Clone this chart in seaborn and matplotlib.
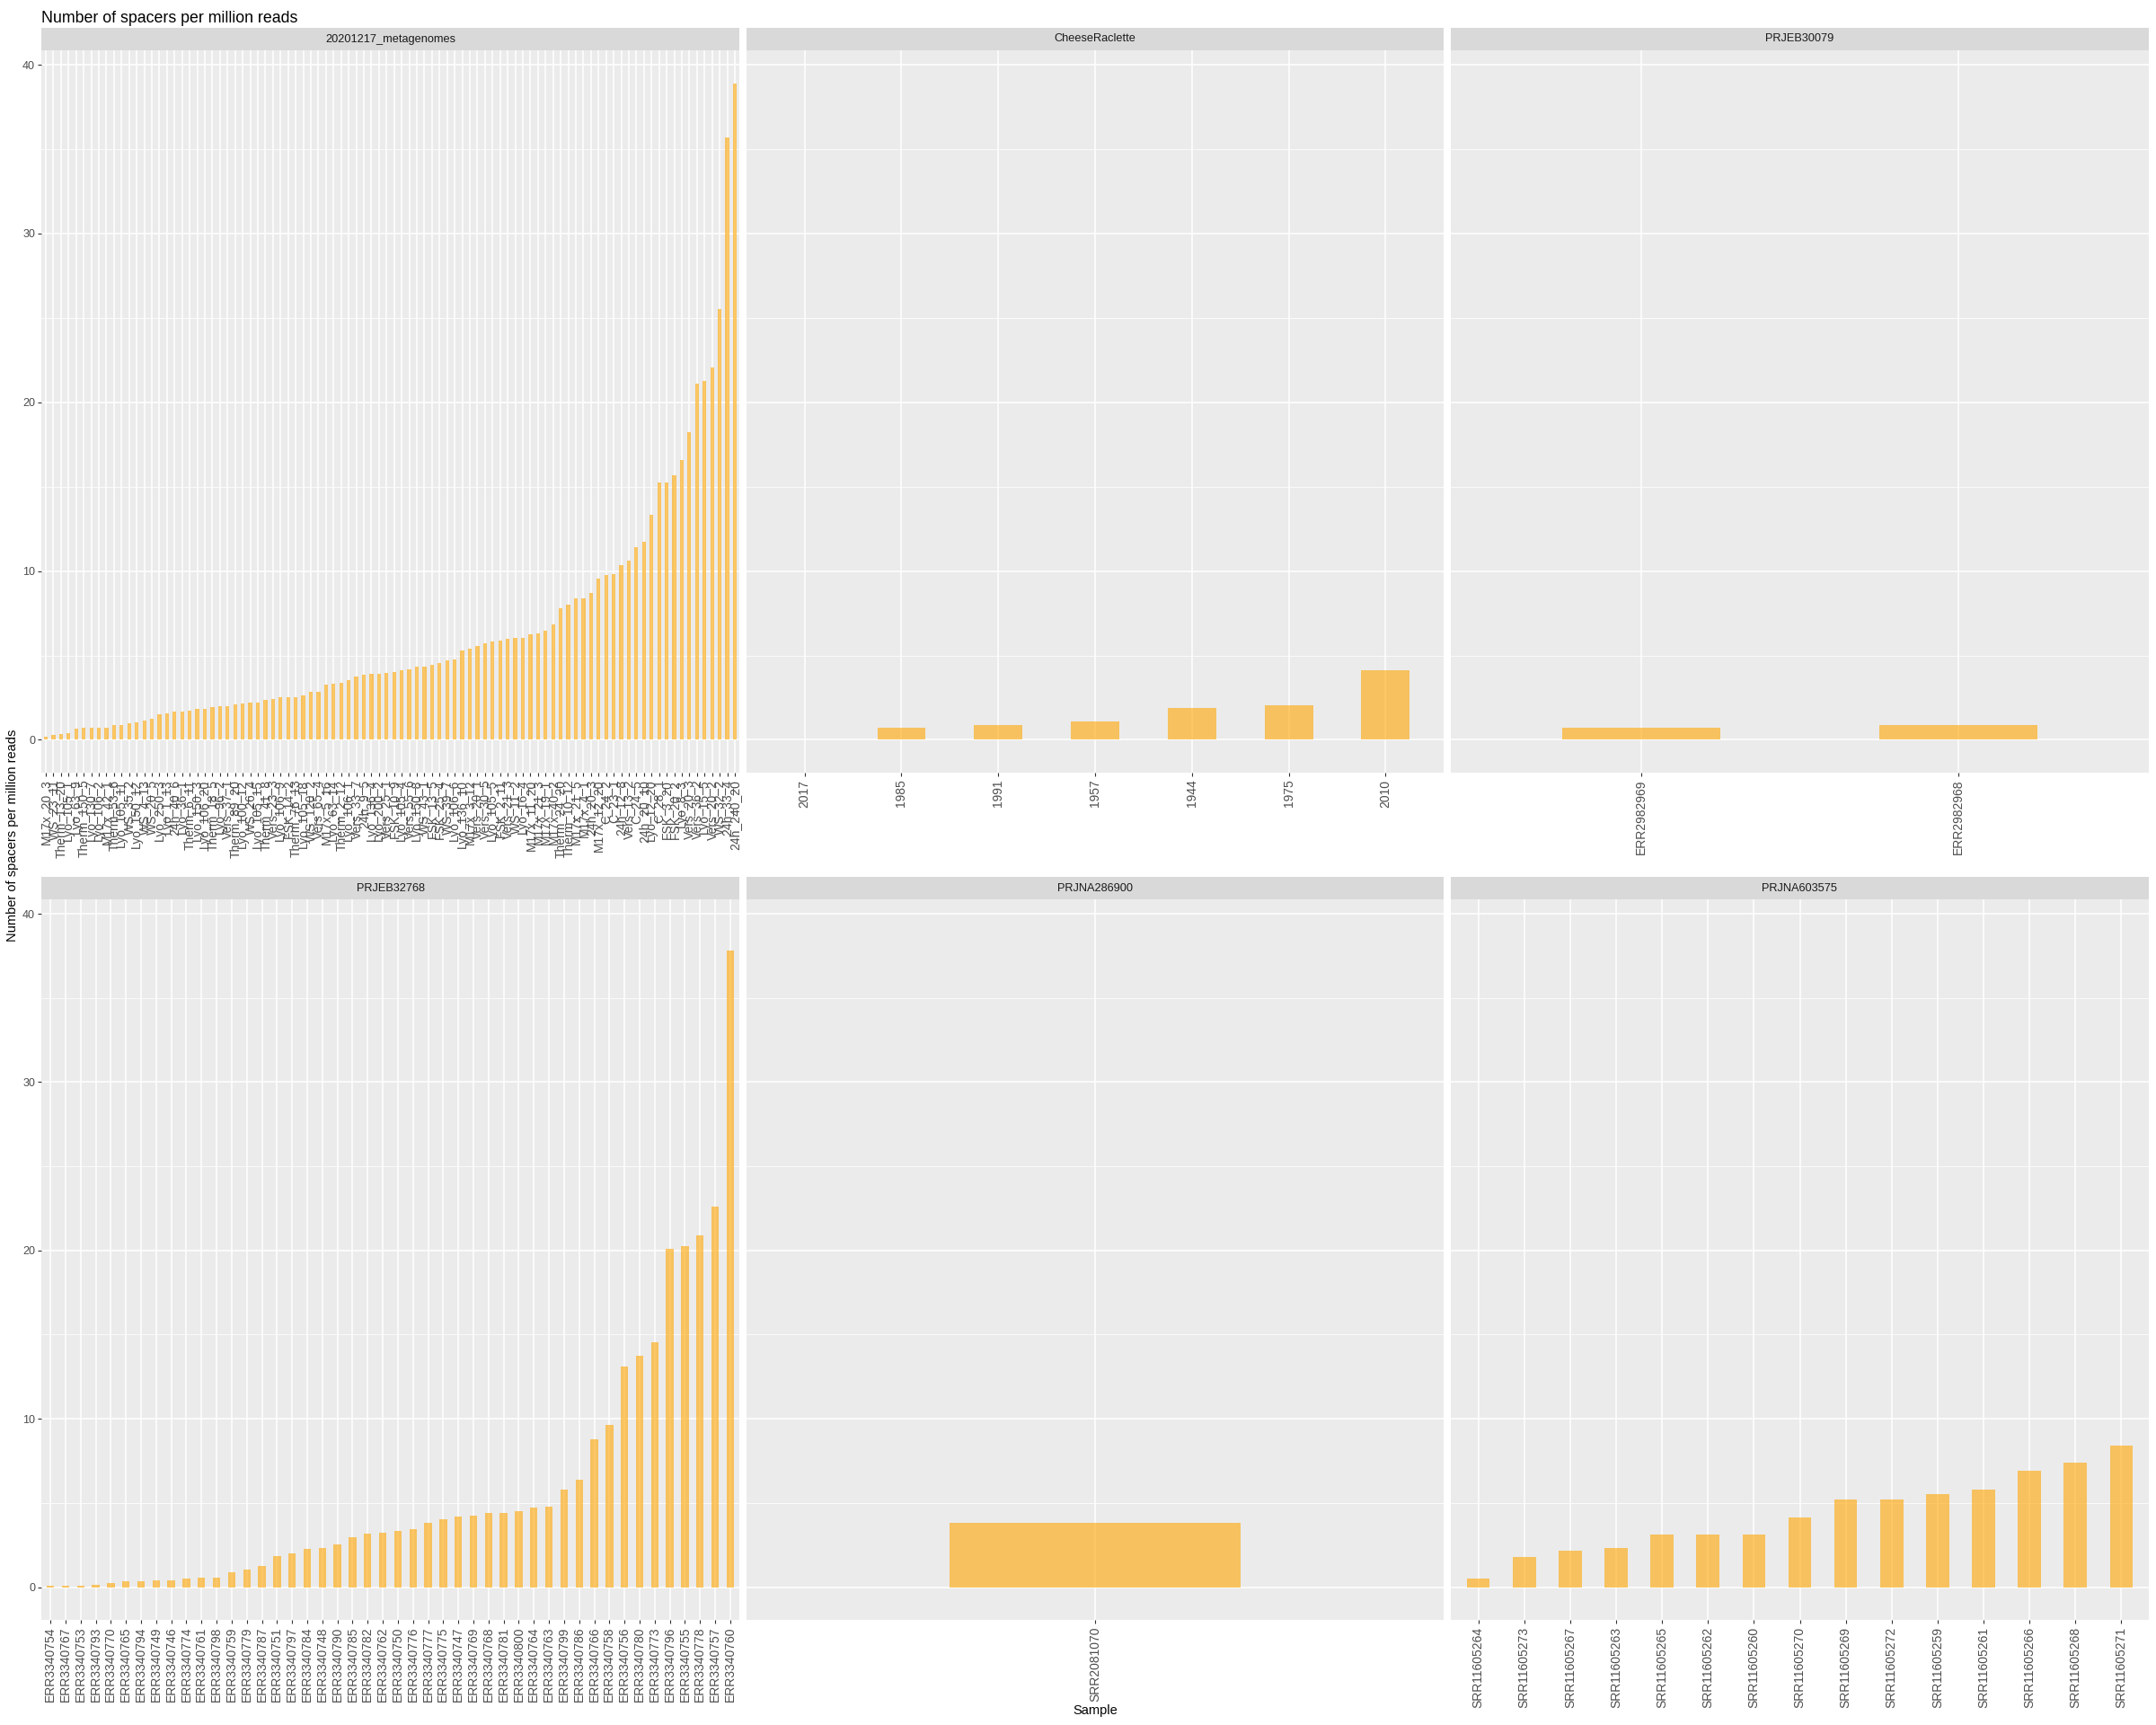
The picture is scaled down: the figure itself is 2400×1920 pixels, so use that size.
import numpy as np
import pandas as pd
import matplotlib
matplotlib.use('Agg')
import matplotlib.pyplot as plt
import seaborn as sns

# ---- data ----
meta_samples = [
    'M17x_20_3', 'WS_23_11', 'Therm_13_20', 'Lyo_105_1', 'Lyo_63_9', 'Therm_150_5',
    'Lyo_130_7', 'Lyo_106_2', 'M17x_42_1', 'Therm_53_6', 'Lyo_105_11', 'WS_35_2',
    'Lyo_150_12', 'WS_4_13', 'WS_20_5', 'Lyo_250_3', 'Lyo_1_13', '24h_40_6',
    'Lyo_36_1', 'Therm_6_11', 'Lyo_150_3', 'Lyo_106_20', 'Therm_18_5', 'Lyo_96_2',
    'Vers_37_1', 'Therm_89_20', 'Lyo_100_12', 'WS_26_4', 'Lyo_105_15', 'Therm_41_8',
    'Vers_23_3', 'Lyo_106_9', 'FSK_14_2', 'Therm_76_13', 'Lyo_105_18', 'WS_120_2',
    'Vers_65_4', 'M17x_5_16', 'Lyo_63_14', 'Therm_2_12', 'Lyo_106_1', 'Vers_33_7',
    '24h_9_5', 'Lyo_136_4', 'Lyo_200_2', 'Vers_25_1', 'FSK_10_9', 'Lyo_105_4',
    'Vers_55_6', 'Lyo_150_8', 'WS_43_1', 'FSK_13_5', 'FSK_25_4', 'WS_39_7',
    'Lyo_106_6', 'Lyo_136_10', 'M17x_3_12', 'Vers_20_1', 'Vers_30_5', 'Lyo_105_5',
    'FSK_2_11', 'Vers_21_3', 'WS_11_2', 'Lyo_16_4', 'M17x_11_20', 'M17x_21_3',
    'M17x_19_1', 'M17x_40_2', 'Therm_24_20', 'Therm_10_12', 'M17x_21_5', 'M17x_4_1',
    '24h_20_3', 'M17x_12_20', 'C_24_2', 'C_23_1', '24h_12_8', 'Vers_13_2',
    'C_24_5', '24h_20_10', 'Lyo_12_20', 'C_28_1', 'FSK_3_20', 'FSK_20_2',
    'Lyo_8_3', 'Vers_20_3', 'Vers_36_2', 'Lyo_15_5', 'Vers_20_2', 'WS_32_2',
    '24h_33_4', '24h_240_20',
]
meta_values = [
    0.16, 0.27, 0.32, 0.42, 0.64, 0.69, 0.74, 0.74, 0.74, 0.85, 0.90, 0.96,
    1.06, 1.12, 1.27, 1.54, 1.59, 1.65, 1.70, 1.75, 1.86, 1.86, 1.96, 2.02,
    2.02, 2.12, 2.18, 2.23, 2.23, 2.34, 2.44, 2.50, 2.50, 2.50, 2.65, 2.87,
    2.87, 3.29, 3.35, 3.40, 3.56, 3.77, 3.88, 3.93, 3.93, 3.97, 4.02, 4.12,
    4.18, 4.34, 4.34, 4.45, 4.56, 4.72, 4.78, 5.29, 5.40, 5.56, 5.73, 5.83,
    5.89, 6.00, 6.05, 6.05, 6.27, 6.32, 6.46, 6.84, 7.79, 8.01, 8.39, 8.39,
    8.71, 9.55, 9.77, 9.82, 10.37, 10.61, 11.42, 11.75, 13.32, 15.25, 15.25, 15.69,
    16.58, 18.24, 21.09, 21.25, 22.06, 25.51, 35.71, 38.91,
]

cheese_samples = ['2017', '1985', '1991', '1957', '1944', '1975', '2010']
cheese_values = [0.05, 0.69, 0.90, 1.11, 1.90, 2.06, 4.12]

prjeb30079_samples = ['ERR2982969', 'ERR2982968']
prjeb30079_values = [0.74, 0.85]

prjeb32768_samples = [
    'ERR3340754', 'ERR3340767', 'ERR3340753', 'ERR3340793', 'ERR3340770', 'ERR3340765',
    'ERR3340794', 'ERR3340749', 'ERR3340746', 'ERR3340774', 'ERR3340761', 'ERR3340798',
    'ERR3340759', 'ERR3340779', 'ERR3340787', 'ERR3340751', 'ERR3340797', 'ERR3340784',
    'ERR3340748', 'ERR3340790', 'ERR3340785', 'ERR3340782', 'ERR3340762', 'ERR3340750',
    'ERR3340776', 'ERR3340777', 'ERR3340775', 'ERR3340747', 'ERR3340769', 'ERR3340768',
    'ERR3340781', 'ERR3340800', 'ERR3340764', 'ERR3340763', 'ERR3340799', 'ERR3340786',
    'ERR3340766', 'ERR3340758', 'ERR3340756', 'ERR3340780', 'ERR3340773', 'ERR3340796',
    'ERR3340755', 'ERR3340778', 'ERR3340757', 'ERR3340760',
]
prjeb32768_values = [
    0.10, 0.10, 0.10, 0.15, 0.26, 0.36, 0.36, 0.41, 0.41, 0.52, 0.57, 0.57,
    0.90, 1.06, 1.26, 1.86, 2.01, 2.27, 2.35, 2.55, 2.97, 3.20, 3.25, 3.35,
    3.46, 3.82, 4.05, 4.20, 4.26, 4.41, 4.41, 4.51, 4.72, 4.77, 5.80, 6.37,
    8.77, 9.62, 13.08, 13.72, 14.57, 20.12, 20.27, 20.87, 22.62, 37.84,
]

prjna286900_samples = ['SRR2081070']
prjna286900_values = [3.84]

prjna603575_samples = [
    'SRR11605264', 'SRR11605273', 'SRR11605267', 'SRR11605263', 'SRR11605265',
    'SRR11605262', 'SRR11605260', 'SRR11605270', 'SRR11605269', 'SRR11605272',
    'SRR11605259', 'SRR11605261', 'SRR11605266', 'SRR11605268', 'SRR11605271',
]
prjna603575_values = [
    0.53, 1.81, 2.14, 2.35, 3.10, 3.10, 3.15, 4.16, 5.18, 5.18, 5.55, 5.77,
    6.94, 7.37, 8.43,
]

panels = [
    ('20201217_metagenomes', meta_samples, meta_values),
    ('CheeseRaclette', cheese_samples, cheese_values),
    ('PRJEB30079', prjeb30079_samples, prjeb30079_values),
    ('PRJEB32768', prjeb32768_samples, prjeb32768_values),
    ('PRJNA286900', prjna286900_samples, prjna286900_values),
    ('PRJNA603575', prjna603575_samples, prjna603575_values),
]

# ---- style ----
plt.rcParams['font.family'] = ['Liberation Sans', 'DejaVu Sans']

W, H = 2400, 1920
fig = plt.figure(figsize=(W / 100, H / 100), dpi=100)

col_x = [(46, 823), (831, 1607), (1615, 2392)]
row_y = [(56, 860), (1001, 1803)]
strip_h = 25

ymax = max(max(v) for _, _, v in panels)
ylo, yhi = -0.05 * ymax, ymax * 1.05

for i, (name, samples, values) in enumerate(panels):
    r, c = divmod(i, 3)
    x0, x1 = col_x[c]
    y0, y1 = row_y[r]
    ax = fig.add_axes([x0 / W, 1 - y1 / H, (x1 - x0) / W, (y1 - y0) / H])
    df = pd.DataFrame({'Sample': samples, 'Value': values})
    sns.barplot(data=df, x='Sample', y='Value', order=samples, color='orange',
                alpha=0.6, width=0.5, saturation=1, errorbar=None, ax=ax)
    n = len(samples)
    ax.set_xlim(-0.6, n - 0.4)
    ax.set_ylim(ylo, yhi)
    ax.set_facecolor('#EBEBEB')
    for s in ax.spines.values():
        s.set_visible(False)
    ax.set_axisbelow(True)
    ax.set_yticks([0, 10, 20, 30, 40])
    ax.set_yticks([5, 15, 25, 35], minor=True)
    ax.grid(True, which='major', axis='both', color='white', linewidth=1.1)
    ax.grid(True, which='minor', axis='y', color='white', linewidth=0.55)
    ax.tick_params(axis='y', which='minor', length=0)
    ax.set_xticks(range(n))
    ax.set_xticklabels(samples, rotation=90, ha='center', va='top')
    ax.tick_params(axis='x', length=3, width=0.8, color='#333333',
                   labelsize=10, labelcolor='#4D4D4D', pad=2.5)
    if c == 0:
        ax.tick_params(axis='y', which='major', length=3, width=0.8, color='#333333',
                       labelsize=9, labelcolor='#4D4D4D', pad=2)
    else:
        ax.tick_params(axis='y', which='major', left=False, labelleft=False)
    ax.set_xlabel('')
    ax.set_ylabel('')

    # facet strip
    sax = fig.add_axes([x0 / W, 1 - y0 / H, (x1 - x0) / W, strip_h / H])
    sax.set_facecolor('#D9D9D9')
    sax.set_xticks([])
    sax.set_yticks([])
    for s in sax.spines.values():
        s.set_visible(False)
    sax.text(0.5, 0.5, name, ha='center', va='center', fontsize=9.2,
             color='#1A1A1A', transform=sax.transAxes)

fig.text(46 / W, 1 - 25 / H, 'Number of spacers per million reads',
         ha='left', va='baseline', fontsize=12.8, color='black')
fig.text(14 / W, 1 - 930 / H, 'Number of spacers per million reads',
         ha='center', va='center', rotation=90, fontsize=10.5, color='black')
fig.text(1219 / W, 1 - 1904 / H, 'Sample', ha='center', va='center',
         fontsize=10.5, color='black')

fig.savefig('out.png', dpi=100, facecolor='white')
